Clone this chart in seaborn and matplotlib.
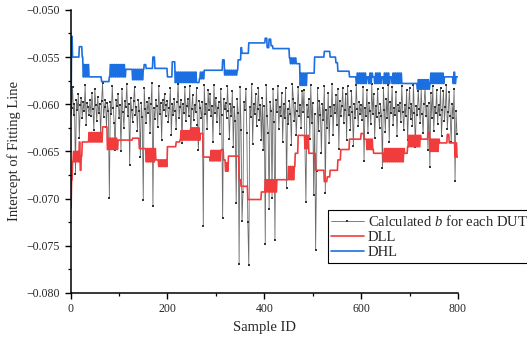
import numpy as np
import pandas as pd
import matplotlib
matplotlib.use("Agg")
import matplotlib.pyplot as plt
from matplotlib.ticker import MultipleLocator, FuncFormatter
import seaborn as sns

# ---------------------------------------------------------------------------
# Data (values in units of 1e-4)
# ---------------------------------------------------------------------------
b_step = 2  # one value every 2 sample IDs
b_vals = [
    -598, -604, -582, -611, -600, -674, -595, -606, -589, -636, -601, -593, -615, -598, -607, -580, -622, -599, -603, -611,
    -596, -612, -588, -605, -627, -584, -601, -618, -592, -609, -600, -631, -597, -578, -614, -603, -595, -624, -599, -607,
    -699, -598, -610, -581, -604, -620, -648, -596, -602, -589, -615, -601, -650, -584, -608, -625, -597, -603, -579, -612,
    -600, -664, -593, -606, -619, -597, -582, -611, -603, -628, -595, -607, -656, -599, -614, -701, -583, -605, -620, -598,
    -609, -593, -631, -600, -577, -708, -604, -616, -596, -602, -624, -581, -610, -599, -638, -595, -606, -589, -613, -601,
    -597, -619, -604, -583, -633, -600, -611, -594, -607, -626, -598, -579, -615, -603, -595, -641, -600, -609, -582, -618,
    -602, -594, -612, -581, -636, -605, -590, -617, -601, -608, -583, -622, -649, -597, -604, -615, -598, -729, -580, -610,
    -600, -626, -585, -606, -589, -613, -602, -640, -580, -609, -593, -619, -604, -598, -632, -584, -611, -721, -594, -605,
    -599, -615, -581, -607, -637, -600, -612, -586, -645, -603, -618, -705, -594, -609, -769, -582, -627, -724, -693, -598,
    -606, -584, -631, -725, -770, -603, -614, -579, -642, -600, -610, -589, -623, -605, -583, -617, -601, -638, -593, -649,
    -602, -748, -580, -613, -630, -711, -598, -607, -699, -584, -619, -744, -596, -608, -581, -626, -603, -612, -588, -640,
    -600, -615, -583, -689, -605, -621, -597, -610, -643, -579, -594, -618, -599, -633, -607, -582, -612, -601, -625, -586,
    -608, -585, -646, -704, -601, -614, -594, -637, -580, -620, -599, -696, -610, -754, -671, -583, -628, -597, -611, -652,
    -600, -617, -581, -694, -606, -625, -588, -641, -603, -612, -579, -633, -601, -609, -590, -622, -584, -647, -597, -613,
    -602, -583, -620, -606, -589, -638, -581, -611, -603, -627, -586, -608, -644, -600, -615, -580, -605, -623, -598, -610,
    -601, -617, -582, -660, -604, -612, -585, -631, -599, -607, -621, -579, -610, -589, -636, -602, -614, -584, -609, -625,
    -600, -612, -668, -583, -606, -629, -594, -615, -580, -640, -598, -609, -582, -622, -604, -611, -587, -634, -601, -607,
    -599, -619, -581, -608, -627, -601, -612, -585, -638, -604, -583, -616, -600, -623, -580, -609, -645, -602, -611, -586,
    -605, -620, -584, -610, -631, -600, -582, -613, -602, -648, -599, -667, -588, -615, -581, -628, -603, -609, -585, -621,
    -601, -611, -583, -634, -606, -586, -618, -603, -580, -626, -608, -587, -612, -640, -600, -615, -584, -681, -607, -632,
]

# DHL / DLL: runs of (first sample, end sample, levels); two levels = the line
# toggles between them, each level held for toggle_hold samples
toggle_hold = 2
dhl_runs = [
    (0, 2, [-611]), (2, 4, [-528]), (4, 18, [-550]), (18, 24, [-539]), (24, 26, [-550]),
    (26, 38, [-571, -558]), (38, 64, [-571]), (64, 80, [-576]), (80, 114, [-571, -558]),
    (114, 128, [-563]), (128, 152, [-574, -563]), (152, 156, [-558]), (156, 170, [-562]),
    (170, 174, [-550]), (174, 200, [-562]), (200, 210, [-571]), (210, 216, [-555]),
    (216, 262, [-577, -566]), (262, 266, [-577]), (266, 276, [-573, -566]), (276, 314, [-564]),
    (314, 318, [-553]), (318, 346, [-569, -564]), (346, 352, [-553]), (352, 354, [-540]),
    (354, 368, [-546]), (368, 398, [-535]), (398, 402, [-535]), (402, 406, [-530]),
    (406, 410, [-540]), (410, 414, [-531]), (414, 418, [-538]), (418, 424, [-541]),
    (424, 452, [-541]), (452, 466, [-551, -557]), (466, 474, [-557]), (474, 488, [-580, -567]),
    (488, 504, [-567]), (504, 524, [-550]), (524, 536, [-544]), (536, 548, [-550]),
    (548, 552, [-556]), (552, 576, [-565]), (576, 590, [-571]), (590, 612, [-578, -567]),
    (612, 616, [-571]), (616, 624, [-578, -567]), (624, 628, [-571]), (628, 642, [-578, -567]),
    (642, 646, [-571]), (646, 660, [-578, -567]), (660, 664, [-571]), (664, 684, [-578, -567]),
    (684, 716, [-578]), (716, 742, [-584, -574]), (742, 772, [-578, -567]), (772, 790, [-571]),
    (790, 796, [-578, -566]), (796, 800, [-571]),
]

dll_runs = [
    (0, 2, [-710]), (2, 4, [-680]), (4, 18, [-661, -650]), (18, 20, [-640]), (20, 24, [-670, -655]),
    (24, 36, [-640]), (36, 66, [-640, -630]), (66, 76, [-624]), (76, 98, [-648, -636]),
    (98, 128, [-638]), (128, 142, [-636]), (142, 156, [-647]), (156, 176, [-661, -647]),
    (176, 182, [-659]), (182, 200, [-666, -659]), (200, 218, [-645]), (218, 226, [-640]),
    (226, 246, [-638, -628]), (246, 268, [-638, -625]), (268, 274, [-631]), (274, 288, [-656]),
    (288, 312, [-660, -649]), (312, 316, [-648]), (316, 320, [-659]), (320, 326, [-671, -662]),
    (326, 348, [-655]), (348, 352, [-680]), (352, 366, [-687]), (366, 394, [-701]),
    (394, 400, [-693]), (400, 426, [-693, -680]), (426, 448, [-680]), (448, 464, [-680, -666]),
    (464, 470, [-652]), (470, 484, [-633]), (484, 492, [-647, -633]), (492, 506, [-652]),
    (506, 524, [-670]), (524, 530, [-682]), (530, 536, [-677]), (536, 552, [-670]),
    (552, 558, [-659]), (558, 576, [-648]), (576, 600, [-637]), (600, 606, [-631]),
    (606, 612, [-637]), (612, 626, [-648, -637]), (626, 646, [-652]), (646, 690, [-661, -647]),
    (690, 696, [-652]), (696, 724, [-645, -633]), (724, 738, [-637]), (738, 742, [-630]),
    (742, 762, [-650, -637]), (762, 778, [-641]), (778, 782, [-632]), (782, 794, [-641]),
    (794, 800, [-656, -641]),
]


def expand_runs(runs):
    vals = []
    for start, end, levels in runs:
        for k in range(start, end):
            vals.append(levels[((k - start) // toggle_hold) % len(levels)])
    return np.array(vals) / 1e4


df_b = pd.DataFrame({"sample": np.arange(len(b_vals)) * b_step, "value": np.array(b_vals) / 1e4})
dll = expand_runs(dll_runs)
dhl = expand_runs(dhl_runs)
df_dll = pd.DataFrame({"sample": np.arange(len(dll)), "value": dll})
df_dhl = pd.DataFrame({"sample": np.arange(len(dhl)), "value": dhl})

# ---------------------------------------------------------------------------
# Plot
# ---------------------------------------------------------------------------
sns.set_theme(style="ticks")
plt.rcParams["font.family"] = ["Liberation Serif", "DejaVu Serif"]
plt.rcParams["mathtext.fontset"] = "custom"
plt.rcParams["mathtext.rm"] = "Liberation Serif"
plt.rcParams["mathtext.it"] = "Liberation Serif:italic"

fig = plt.figure(figsize=(5.27, 3.41), dpi=100)
ax = fig.add_axes([0.134, 0.141, 0.735, 0.830])

sns.lineplot(data=df_b, x="sample", y="value", ax=ax, color="#6a6a6a", lw=0.6,
             marker="s", markersize=1.6, markeredgewidth=0, markerfacecolor="#333333",
             label="Calculated $b$ for each DUT")
sns.lineplot(data=df_dll, x="sample", y="value", ax=ax, color="#f03c3c", lw=1.2, label="DLL")
sns.lineplot(data=df_dhl, x="sample", y="value", ax=ax, color="#1c6fe0", lw=1.2, label="DHL")

ax.set_xlim(0, 800)
ax.set_ylim(-0.080, -0.050)
ax.xaxis.set_major_locator(MultipleLocator(200))
ax.xaxis.set_minor_locator(MultipleLocator(100))
ax.yaxis.set_major_locator(MultipleLocator(0.005))
ax.yaxis.set_minor_locator(MultipleLocator(0.0025))
ax.yaxis.set_major_formatter(FuncFormatter(lambda v, p: f"{v:.3f}".replace("-", "\u2212")))

ax.tick_params(which="major", direction="out", length=4, width=1, labelsize=8.5, color="black")
ax.tick_params(which="minor", direction="out", length=2.5, width=0.9, color="black")
sns.despine(ax=ax)
for side in ["left", "bottom"]:
    ax.spines[side].set_linewidth(1.1)
    ax.spines[side].set_color("black")

ax.set_xlabel("Sample ID", fontsize=10.5, labelpad=4)
ax.set_ylabel("Intercept of Fitting Line", fontsize=10.5, labelpad=4)

leg = ax.legend(loc="upper left", bbox_to_anchor=(0.622, 0.384), bbox_transform=fig.transFigure,
                fontsize=10.5, frameon=True, fancybox=False, edgecolor="black", framealpha=1,
                handlelength=2.2, handletextpad=0.3, labelspacing=0.15, borderpad=0.25,
                borderaxespad=0)
leg.get_frame().set_linewidth(0.8)

plt.savefig("out.png", dpi=100)
